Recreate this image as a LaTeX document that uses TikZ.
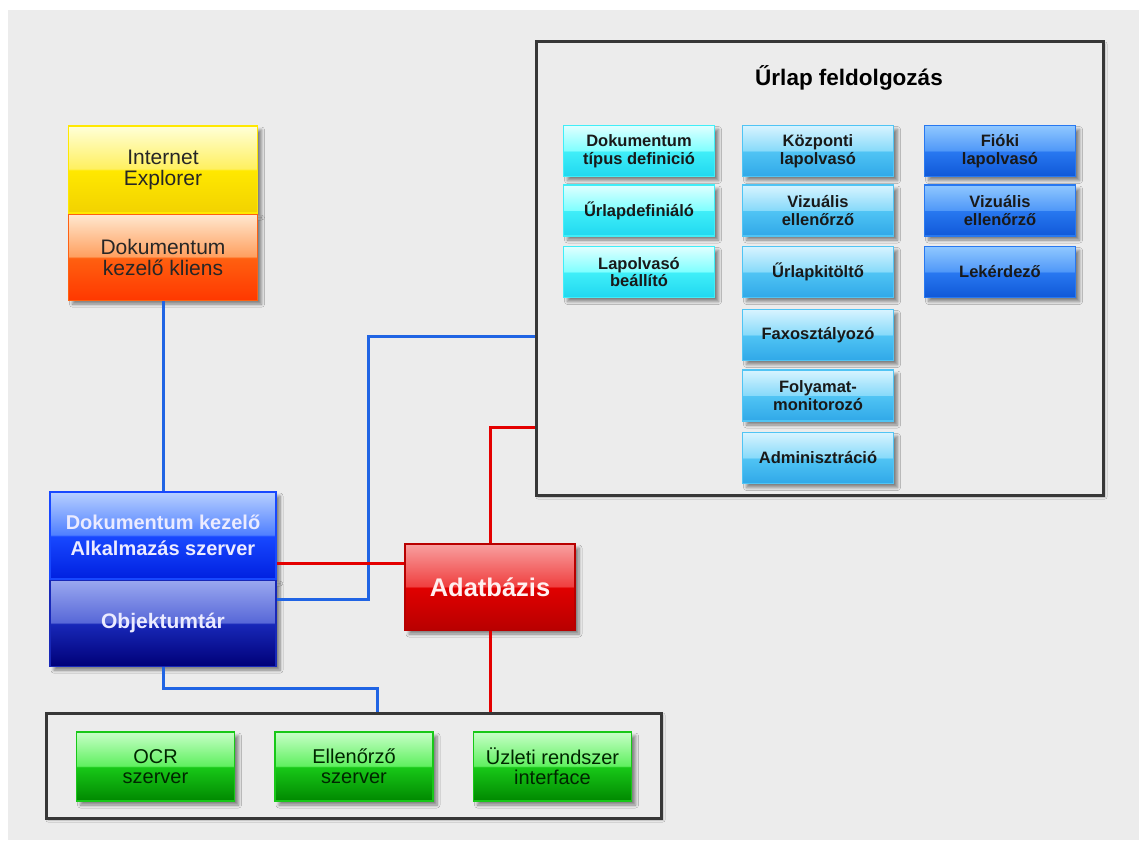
\documentclass[tikz,border=0pt]{standalone}
\usepackage{fontspec}
\setmainfont{Liberation Sans}
\usetikzlibrary{shadows.blur,positioning}

\definecolor{bggray}{RGB}{236,236,236}
\definecolor{frame}{RGB}{55,55,55}
\definecolor{wireblue}{RGB}{32,100,228}
\definecolor{wirered}{RGB}{228,0,0}

% glossy fills: name, top, upper middle, lower middle, bottom
\newcommand{\glossshade}[5]{%
  \pgfdeclareverticalshading{#1}{100bp}{color(0bp)=(#5); color(25bp)=(#5); color(49.5bp)=(#4); color(50.5bp)=(#3); color(75bp)=(#2); color(100bp)=(#2)}}

\definecolor{ieA}{RGB}{255,255,216}\definecolor{ieB}{RGB}{255,240,96}\definecolor{ieC}{RGB}{255,232,0}\definecolor{ieD}{RGB}{242,210,0}
\definecolor{clA}{RGB}{255,232,208}\definecolor{clB}{RGB}{255,160,96}\definecolor{clC}{RGB}{255,96,16}\definecolor{clD}{RGB}{255,56,0}
\definecolor{apA}{RGB}{184,208,255}\definecolor{apB}{RGB}{80,128,255}\definecolor{apC}{RGB}{24,72,255}\definecolor{apD}{RGB}{0,32,224}
\definecolor{obA}{RGB}{154,168,240}\definecolor{obB}{RGB}{88,104,216}\definecolor{obC}{RGB}{24,40,184}\definecolor{obD}{RGB}{0,0,120}
\definecolor{dbA}{RGB}{248,160,160}\definecolor{dbB}{RGB}{240,64,64}\definecolor{dbC}{RGB}{224,0,0}\definecolor{dbD}{RGB}{184,0,0}
\definecolor{cyA}{RGB}{224,255,255}\definecolor{cyB}{RGB}{128,255,255}\definecolor{cyC}{RGB}{64,238,248}\definecolor{cyD}{RGB}{32,216,240}
\definecolor{skA}{RGB}{216,244,255}\definecolor{skB}{RGB}{136,218,250}\definecolor{skC}{RGB}{80,196,244}\definecolor{skD}{RGB}{48,168,232}
\definecolor{azA}{RGB}{144,200,255}\definecolor{azB}{RGB}{80,152,248}\definecolor{azC}{RGB}{40,120,240}\definecolor{azD}{RGB}{16,88,216}
\definecolor{grA}{RGB}{200,255,200}\definecolor{grB}{RGB}{96,240,96}\definecolor{grC}{RGB}{24,200,24}\definecolor{grD}{RGB}{0,136,0}

\glossshade{ieshade}{ieA}{ieB}{ieC}{ieD}
\glossshade{clshade}{clA}{clB}{clC}{clD}
\glossshade{apshade}{apA}{apB}{apC}{apD}
\glossshade{obshade}{obA}{obB}{obC}{obD}
\glossshade{dbshade}{dbA}{dbB}{dbC}{dbD}
\glossshade{cyshade}{cyA}{cyB}{cyC}{cyD}
\glossshade{skshade}{skA}{skB}{skC}{skD}
\glossshade{azshade}{azA}{azB}{azC}{azD}
\glossshade{grshade}{grA}{grB}{grC}{grD}

\begin{document}
\begin{tikzpicture}[x=1pt,y=1pt,yscale=-1,xscale=1,
    softshadow/.style={blur shadow={shadow xshift=4pt,shadow yshift=-4pt,shadow blur radius=3pt,shadow blur steps=6,shadow opacity=45}},
    panel/.style={draw=frame,line width=3pt,fill=bggray,blur shadow={shadow xshift=2pt,shadow yshift=-2pt,shadow blur radius=2pt,shadow opacity=25}},
    block/.style={softshadow,line width=1.2pt,align=center,inner sep=1pt},
    cell/.style={block,minimum width=151pt,minimum height=51pt,text=black!90,font=\fontsize{16.5}{17.5}\selectfont\bfseries},
    wire/.style={line width=3pt}]

		% Background with white margin at top and left
		\fill[white] (0,0) rectangle (1139,840);
		\fill[bggray] (8,10) rectangle (1139,840);
		\useasboundingbox (0,0) rectangle (1139,840);

		% Panel frames
		\node[panel,minimum width=567pt,minimum height=453pt] (form) at (819.5,268.5) {};
		\node[panel,minimum width=615pt,minimum height=105pt] (bus) at (353.5,765.5) {};

		% Title of the form processing panel
		\node[font=\fontsize{22.5}{24}\selectfont\bfseries] (title) at (849,78) {Űrlap feldolgozás};

		% Client stack
		\node[block,draw=ieC,shade,shading=ieshade,minimum width=189pt,minimum height=87pt,text=black!85,font=\fontsize{21}{21}\selectfont] (ie) at (163,169.5) {Internet\\Explorer};
		\node[block,draw=clC,shade,shading=clshade,minimum width=189pt,minimum height=86pt,text=black!85,font=\fontsize{21}{21}\selectfont,anchor=north] (client) at (ie.south) {Dokumentum\\kezelő kliens};

		% Server stack
		\node[block,draw=apC,shade,shading=apshade,minimum width=226pt,minimum height=87pt,text=white!92!blue,font=\fontsize{20}{26}\selectfont\bfseries] (app) at (163,535.5) {Dokumentum kezelő\\Alkalmazás szerver};
		\node[block,draw=obC,shade,shading=obshade,minimum width=226pt,minimum height=86pt,text=white!92!blue,font=\fontsize{21}{22}\selectfont\bfseries,anchor=north] (obj) at (app.south) {Objektumtár};

		% Database
		\node[block,draw=dbD,shade,shading=dbshade,minimum width=170pt,minimum height=86pt,text=white!94!red,font=\fontsize{25.5}{27}\selectfont\bfseries] (db) at (490,587) {Adatbázis};

		% Form processing modules, first column
		\node[cell,draw=cyC,shade,shading=cyshade] (doctype) at (639,151) {Dokumentum\\típus definició};
		\node[cell,draw=cyC,shade,shading=cyshade] (formdef) at (639,210.5) {Űrlapdefiniáló};
		\node[cell,draw=cyC,shade,shading=cyshade] (scanset) at (639,272) {Lapolvasó\\beállító};

		% Second column
		\node[cell,draw=skC,shade,shading=skshade] (cscan) at (818,151) {Központi\\lapolvasó};
		\node[cell,draw=skC,shade,shading=skshade] (vis2) at (818,210.5) {Vizuális\\ellenőrző};
		\node[cell,draw=skC,shade,shading=skshade] (fill) at (818,272) {Űrlapkitöltő};
		\node[cell,draw=skC,shade,shading=skshade] (fax) at (818,335) {Faxosztályozó};
		\node[cell,draw=skC,shade,shading=skshade] (monitor) at (818,395.5) {Folyamat-\\monitorozó};
		\node[cell,draw=skC,shade,shading=skshade] (admin) at (818,458) {Adminisztráció};

		% Third column
		\node[cell,draw=azC,shade,shading=azshade] (bscan) at (1000,151) {Fióki\\lapolvasó};
		\node[cell,draw=azC,shade,shading=azshade] (vis3) at (1000,210.5) {Vizuális\\ellenőrző};
		\node[cell,draw=azC,shade,shading=azshade] (query) at (1000,272) {Lekérdező};

		% Service servers
		\node[block,draw=grC,shade,shading=grshade,minimum width=158pt,minimum height=69pt,text=black!85!green,font=\fontsize{20}{20}\selectfont] (ocr) at (155.5,766.5) {OCR\\szerver};
		\node[block,draw=grC,shade,shading=grshade,minimum width=158pt,minimum height=69pt,text=black!85!green,font=\fontsize{20}{20}\selectfont] (check) at (354,766.5) {Ellenőrző\\szerver};
		\node[block,draw=grC,shade,shading=grshade,minimum width=158pt,minimum height=69pt,text=black!85!green,font=\fontsize{20}{20}\selectfont] (erp) at (552.5,766.5) {Üzleti rendszer\\interface};

		% Wires in blue
		\draw[wire,wireblue] (client.south) -- (client.south |- app.north);
		\draw[wire,wireblue] (obj.east |- 0,599) -| (368,336) -- (form.west |- 0,336);
		\draw[wire,wireblue] (obj.south) |- (377,688) -- (bus.north -| 377,0);

		% Wires in red
		\draw[wire,wirered] (app.east |- 0,563) -- (db.west |- 0,563);
		\draw[wire,wirered] (db.north) |- (form.west |- 0,427);
		\draw[wire,wirered] (db.south) -- (db.south |- bus.north);
	\end{tikzpicture}
\end{document}
